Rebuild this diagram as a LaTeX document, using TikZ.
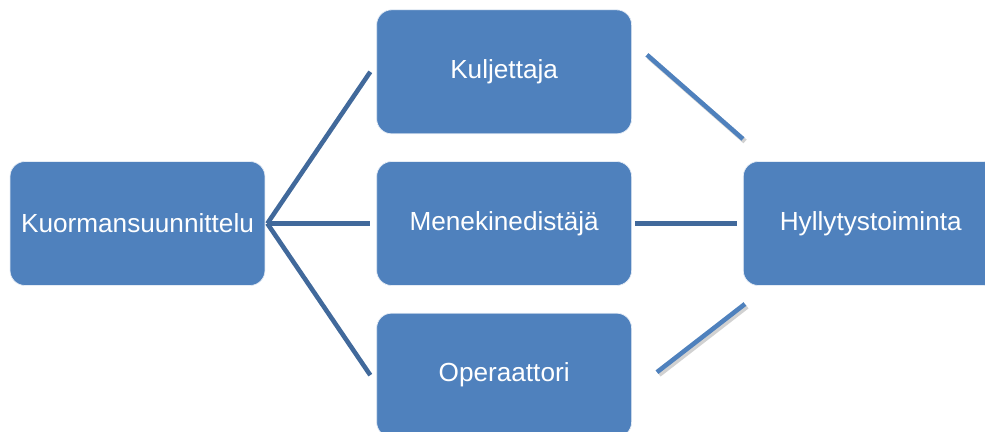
\documentclass[tikz,border=0pt]{standalone}
\usepackage{fontspec}
\setmainfont{Liberation Sans}
\usetikzlibrary{positioning, calc}
\definecolor{boxblue}{HTML}{4F81BD}
\definecolor{linkdark}{HTML}{41699B}
\tikzset{
  lohko/.style={rectangle, rounded corners=3mm, draw=white!85!boxblue, line width=0.4pt, fill=boxblue, text=white, minimum width=5.1cm, minimum height=2.48cm, inner sep=0pt, text centered, font=\fontsize{14.9}{17}\selectfont},
  yhteys/.style={draw=linkdark, line width=2.6pt},
  varjoyhteys/.style={draw=boxblue, line width=2.6pt, preaction={draw=black!45, opacity=0.4, line width=2.8pt, transform canvas={shift={(1.2pt,-1.4pt)}}}}
}
\begin{document}
\begin{tikzpicture}[x=0.02cm, y=-0.02cm, node distance=5.4mm and 22.2mm]
    \useasboundingbox (0,0) rectangle (985,432);

    % --- Lohkot ---
    \node (kuorma) [lohko] at (137.5,223.5) {Kuormansuunnittelu};
    \node (menekki) [lohko, right=of kuorma] {Menekinedistäjä};
    \node (kuljettaja) [lohko, above=of menekki] {Kuljettaja};
    \node (operaattori) [lohko, below=of menekki] {Operaattori};
    \node (hylly) [lohko, right=of menekki] {Hyllytystoiminta};

    % Yhteinen lähtöpiste vasemmalla
    \coordinate (haara) at ($(kuorma.east)+(2,0)$);

    % --- Yhteydet vasemmalta ---
    \draw [yhteys] (haara) -- ($(kuljettaja.west)+(-6,0)$);
    \draw [yhteys] (haara) -- ($(menekki.west)+(-6,0)$);
    \draw [yhteys] (haara) -- ($(operaattori.west)+(-6,0)$);

    % --- Yhteydet oikealle ---
    \draw [varjoyhteys] ($(kuljettaja.east)+(15,-17)$) -- ($(hylly.west)+(0,-84.5)$);
    \draw [yhteys] ($(menekki.east)+(3,0)$) -- ($(hylly.west)+(-6,0)$);
    \draw [varjoyhteys] ($(operaattori.east)+(25,-3)$) -- ($(hylly.west)+(2,80.5)$);
\end{tikzpicture}
\end{document}
